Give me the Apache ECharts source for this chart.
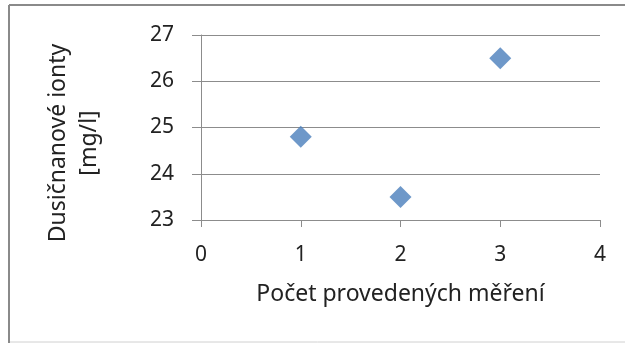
<!DOCTYPE html>
<html><head><meta charset="utf-8">
<script src="https://cdn.jsdelivr.net/npm/echarts@6/dist/echarts.min.js"></script>
<style>html,body{margin:0;padding:0;background:#fff}#c{width:625px;height:343px}</style>
</head><body><div id="c"></div>
<script>
const xValues = [1, 2, 3];
const yValues = [24.8, 23.5, 26.5];
const xTicks = [0, 1, 2, 3, 4];
const yTicks = [23, 24, 25, 26, 27];
const xTitle = 'Počet provedených měření';
const yTitle = 'Dusičnanové ionty\n[mg/l]';

const FONT = 'Noto Sans';
const chart = echarts.init(document.getElementById('c'), null, {renderer: 'canvas'});
chart.setOption({
  animation: false,
  grid: {left: 201, right: 25, top: 35, bottom: 123, containLabel: false},
  xAxis: {
    type: 'value', min: xTicks[0], max: xTicks[xTicks.length - 1], interval: 1,
    axisLine: {show: true, lineStyle: {color: '#8c8c8c', width: 1}},
    axisTick: {show: true, length: 7, lineStyle: {color: '#8c8c8c'}},
    axisLabel: {color: '#222', fontFamily: FONT, fontSize: 21, margin: 25},
    splitLine: {show: false},
    name: xTitle, nameLocation: 'middle', nameGap: 63,
    nameTextStyle: {color: '#222', fontFamily: FONT, fontSize: 23}
  },
  yAxis: {
    type: 'value', min: yTicks[0], max: yTicks[yTicks.length - 1], interval: 1,
    axisLine: {show: true, lineStyle: {color: '#8c8c8c', width: 1}},
    axisTick: {show: true, length: 9, lineStyle: {color: '#8c8c8c'}},
    axisLabel: {color: '#222', fontFamily: FONT, fontSize: 21, margin: 27},
    splitLine: {show: true, lineStyle: {color: '#8c8c8c', width: 1}}
  },
  series: [{
    type: 'scatter',
    data: xValues.map((x, i) => [x, yValues[i]]),
    symbol: 'diamond', symbolSize: 22,
    itemStyle: {color: '#4a7ebb'}
  }],
  graphic: [
    {type: 'text', x: 74, y: 143, rotation: Math.PI / 2,
     style: {text: yTitle, fontFamily: FONT, fontSize: 23, lineHeight: 31, fill: '#222',
             align: 'center', verticalAlign: 'middle'}},
    {type: 'line', shape: {x1: 9, y1: 5, x2: 625, y2: 5}, style: {stroke: '#8a8a8a', lineWidth: 2}},
    {type: 'line', shape: {x1: 9, y1: 5, x2: 9, y2: 343}, style: {stroke: '#8a8a8a', lineWidth: 2}},
    {type: 'line', shape: {x1: 10, y1: 342, x2: 625, y2: 342}, style: {stroke: '#d0d0d0', lineWidth: 1}}
  ]
});
</script></body></html>
